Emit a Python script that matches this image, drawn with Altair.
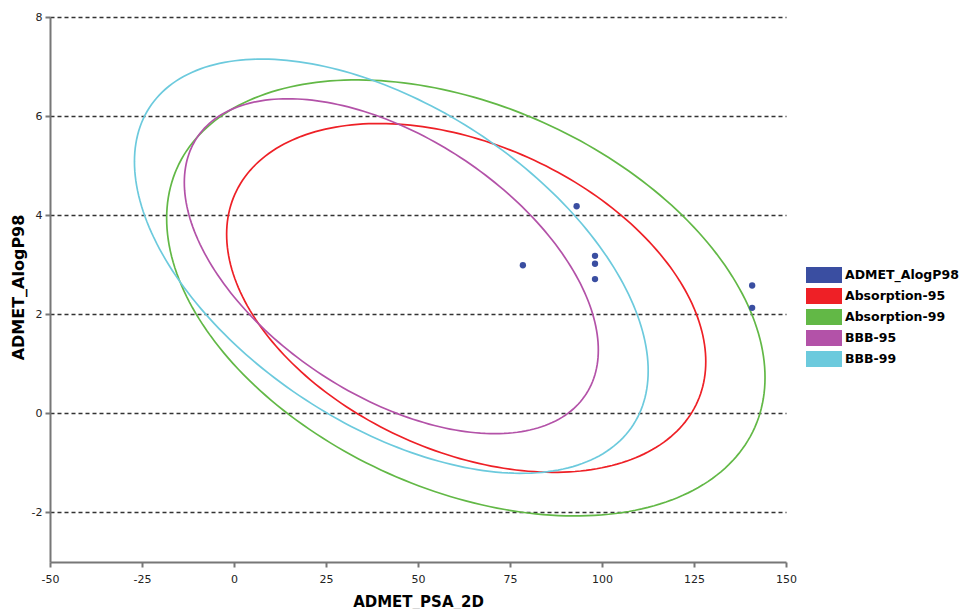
import numpy as np
import pandas as pd
import altair as alt

# Data points (ADMET_PSA_2D vs ADMET_AlogP98)
psa = [78.5, 93.1, 98.1, 98.1, 98.1, 140.8, 140.8]
alogp = [2.99, 4.18, 3.18, 3.02, 2.71, 2.58, 2.13]

series = ["ADMET_AlogP98", "Absorption-95", "Absorption-99", "BBB-95", "BBB-99"]
colors = ["#3a4ea1", "#ee2026", "#62b846", "#b352a8", "#6ccadd"]

# Confidence ellipses: centre, half-extent in x and y, correlation
ell_names = ["Absorption-95", "Absorption-99", "BBB-95", "BBB-99"]
ell_cx = [63.1, 63.0, 42.75, 42.75]
ell_cy = [2.33, 2.33, 2.97, 2.97]
ell_ax = [65.1, 81.3, 56.25, 69.8]
ell_ay = [3.52, 4.40, 3.38, 4.18]
ell_r = [-0.365, -0.365, -0.50, -0.505]

x_ticks = [-50, -25, 0, 25, 50, 75, 100, 125, 150]
y_ticks = [-2, 0, 2, 4, 6, 8]

rows = []
t = np.linspace(0, 2 * np.pi, 241)
for name, cx, cy, ax, ay, r in zip(ell_names, ell_cx, ell_cy, ell_ax, ell_ay, ell_r):
    xs = cx + ax * np.cos(t)
    ys = cy + ay * (r * np.cos(t) + np.sqrt(1 - r * r) * np.sin(t))
    for i, (xx, yy) in enumerate(zip(xs, ys)):
        rows.append({"series": name, "i": i, "x": float(xx), "y": float(yy)})
ell_df = pd.DataFrame(rows)
pts_df = pd.DataFrame({"x": psa, "y": alogp, "series": ["ADMET_AlogP98"] * len(psa)})

xscale = alt.Scale(domain=[-50, 150], nice=False, zero=False)
yscale = alt.Scale(domain=[-3, 8], nice=False, zero=False)

xaxis = alt.Axis(values=x_ticks, title="ADMET_PSA_2D", grid=False, labelFlush=False,
                 labelExpr="toString(datum.value)",
                 labelPadding=6, titleX=368, titleY=39, titleBaseline="middle",
                 titleAlign="center")
yaxis = alt.Axis(values=y_ticks, title="ADMET_AlogP98", grid=True, labelFlush=False,
                 labelExpr="toString(datum.value)",
                 gridDash=[4, 3], gridColor="#333333", gridWidth=1.3, gridOpacity=1,
                 labelPadding=3, titleX=-32, titleY=270, titleBaseline="middle",
                 titleAlign="center", titleFontSize=16)

lines = alt.Chart(ell_df).mark_line(strokeWidth=1.7, clip=True).encode(
    x=alt.X("x:Q", scale=xscale, axis=xaxis),
    y=alt.Y("y:Q", scale=yscale, axis=yaxis),
    stroke=alt.Stroke("series:N", scale=alt.Scale(domain=ell_names, range=colors[1:]), legend=None),
    detail="series:N",
    order="i:Q",
)

points = alt.Chart(pts_df).mark_circle(size=40, opacity=1).encode(
    x=alt.X("x:Q", scale=xscale),
    y=alt.Y("y:Q", scale=yscale),
    fill=alt.Fill(
        "series:N",
        scale=alt.Scale(domain=series, range=colors),
        legend=alt.Legend(
            orient="none", legendX=765, legendY=249, title=None, padding=0,
            symbolType="M-2,-0.889L2,-0.889L2,0.889L-2,0.889Z", symbolSize=324,
            symbolStrokeWidth=0, symbolOpacity=1, labelOffset=12, rowPadding=3,
            labelFont="DejaVu Sans", labelFontWeight="bold", labelFontSize=12.5,
            labelColor="black", labelLimit=200,
        ),
    ),
)

chart = (
    alt.layer(lines, points)
    .properties(
        width=736, height=545,
        autosize=alt.AutoSizeParams(type="none"),
        padding={"left": 42, "top": 9, "right": 173, "bottom": 47},
        background="white",
    )
    .configure_view(stroke=None)
    .configure_axis(
        labelFont="DejaVu Sans", labelFontSize=11, labelColor="#222222",
        titleFont="DejaVu Sans", titleFontWeight="bold", titleFontSize=15, titleColor="black",
        domainColor="#777777", domainWidth=2, tickColor="#777777", tickWidth=2, tickSize=5,
    )
)

chart.save("out.html", embed_options={"renderer": "svg", "actions": False})
